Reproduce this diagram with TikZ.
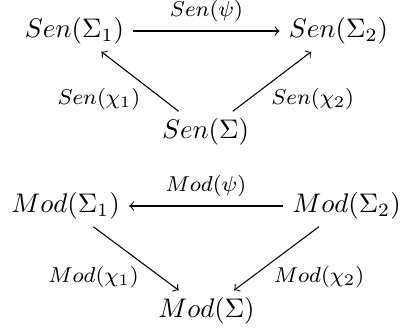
\documentclass[tikz,border=0pt]{standalone}
\usepackage{amsmath}
\usepackage{amssymb}

\begin{document}
\begin{tikzpicture}[x=0.372pt, y=0.372pt,
		obj/.style={inner xsep=3.3pt, inner ysep=2.5pt},
		lbl/.style={font=\footnotesize}]
			\useasboundingbox (0, 0) rectangle (402, 329);
			% sentences
			\node[obj] (sen1) at (74.5, 298){$Sen(\Sigma_1)$};
			\node[obj] (sen2) at (338.5, 298){$Sen(\Sigma_2)$};
			\node[obj] (sen) at (205.5, 197){$Sen(\Sigma)$};
			\draw[->] (sen1) -- (sen2) node[lbl, midway, above]{$Sen(\psi)$};
			\draw[->] (sen) -- (sen1) node[lbl, pos=0.2, left=5pt]{$Sen(\chi_1)$};
			\draw[->] (sen) -- (sen2) node[lbl, pos=0.2, right=5pt]{$Sen(\chi_2)$};
			% models
			\node[obj] (mod1) at (65.5, 123){$Mod(\Sigma_1)$};
			\node[obj] (mod2) at (346.5, 123){$Mod(\Sigma_2)$};
			\node[obj] (mod) at (206.5, 18){$Mod(\Sigma)$};
			\draw[->] (mod2) -- (mod1) node[lbl, midway, above]{$Mod(\psi)$};
			\draw[->] (mod1) -- (mod) node[lbl, pos=0.8, left=5pt]{$Mod(\chi_1)$};
			\draw[->] (mod2) -- (mod) node[lbl, pos=0.8, right=5pt]{$Mod(\chi_2)$};
		\end{tikzpicture}
\end{document}
